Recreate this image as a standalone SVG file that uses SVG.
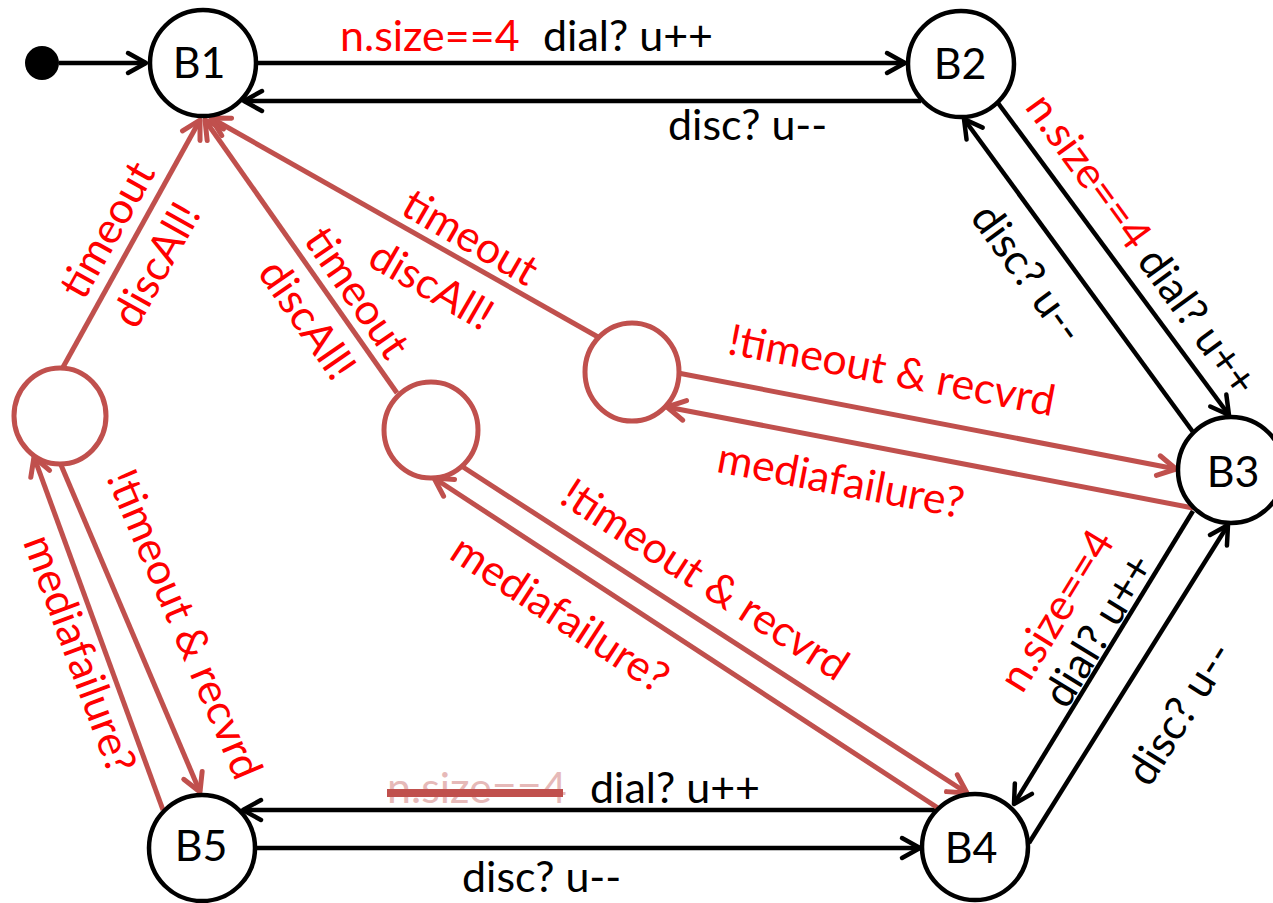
<svg xmlns="http://www.w3.org/2000/svg" width="1273" height="903" viewBox="0 0 1273 903">
<style>
.t{font-family:Lato,"Open Sans","Liberation Sans",sans-serif;font-size:43px}
.r{fill:#ff0000}
.k{fill:#000000}
.n{fill:#ffffff;stroke:#000000;stroke-width:4.5}
.s{fill:#ffffff;stroke:#c0504d;stroke-width:5}
.bl{fill:none;stroke:#000000;stroke-width:4.5;marker-end:url(#ab)}
.rl{fill:none;stroke:#c0504d;stroke-width:5;marker-end:url(#ar)}
</style>
<defs>
<marker id="ab" markerUnits="userSpaceOnUse" markerWidth="30" markerHeight="30" viewBox="-22 -15 30 30" refX="0" refY="0" orient="auto" overflow="visible">
<path d="M-18,-10 L0,0 L-18,10" fill="none" stroke="#000" stroke-width="4.5" stroke-linecap="round" stroke-linejoin="round"/>
</marker>
<marker id="ar" markerUnits="userSpaceOnUse" markerWidth="30" markerHeight="30" viewBox="-22 -15 30 30" refX="0" refY="0" orient="auto" overflow="visible">
<path d="M-18,-10 L0,0 L-18,10" fill="none" stroke="#c0504d" stroke-width="5" stroke-linecap="round" stroke-linejoin="round"/>
</marker>
</defs>
<rect width="1273" height="903" fill="#ffffff"/>

<g id="connectors">
<path class="bl" d="M59,63 L146,63"/>
<path class="bl" d="M256,63 L905,63"/>
<path class="bl" d="M921,101 L244,101"/>
<path class="bl" d="M998,103 L1229,415"/>
<path class="bl" d="M1193,432 L964,119"/>
<path class="bl" d="M1193,511 L1014,804"/>
<path class="bl" d="M1029,843 L1228,525"/>
<path class="bl" d="M937,810 L243,810"/>
<path class="bl" d="M255,848 L920,848"/>
<path class="rl" d="M62,369 L200,120"/>
<path class="rl" d="M397,393 L205,120"/>
<path class="rl" d="M598,337 L211,118"/>
<path class="rl" d="M678,373 L1176,469"/>
<path class="rl" d="M1193,508 L667,407"/>
<path class="rl" d="M463,467 L967,793"/>
<path class="rl" d="M938,808 L434,478"/>
<path class="rl" d="M61,465 L200,792"/>
<path class="rl" d="M163,810 L34,457"/>
</g>

<g id="init"><circle cx="42" cy="63" r="17" fill="#000"/></g>
<g id="B1"><circle class="n" cx="203" cy="63" r="53"/><text class="t k" x="199" y="78" text-anchor="middle">B1</text></g>
<g id="B2"><circle class="n" cx="961" cy="64" r="53"/><text class="t k" x="960" y="79" text-anchor="middle">B2</text></g>
<g id="B3"><circle class="n" cx="1231" cy="470" r="53"/><text class="t k" x="1233" y="487" text-anchor="middle">B3</text></g>
<g id="B4"><circle class="n" cx="975" cy="847" r="53"/><text class="t k" x="971" y="863" text-anchor="middle">B4</text></g>
<g id="B5"><circle class="n" cx="202" cy="848" r="53"/><text class="t k" x="201" y="861" text-anchor="middle">B5</text></g>
<g id="S1"><ellipse class="s" cx="60" cy="416" rx="46" ry="48"/></g>
<g id="S2"><ellipse class="s" cx="431" cy="430" rx="47" ry="48"/></g>
<g id="S3"><ellipse class="s" cx="632" cy="372" rx="47" ry="49"/></g>

<g id="labels">
<text class="t r" x="340" y="51">n.size==4</text>
<text class="t k" x="543" y="51">dial? u++</text>
<text class="t k" x="668" y="140">disc? u--</text>
<text class="t" text-anchor="middle" transform="translate(1130,253) rotate(54)"><tspan class="r">n.size==4</tspan><tspan class="k"> dial? u++</tspan></text>
<text class="t k" text-anchor="middle" transform="translate(1016,282) rotate(54)">disc? u--</text>
<text class="t k" text-anchor="middle" transform="translate(1111,638) rotate(-58.6)">dial? u++</text>
<text class="t r" text-anchor="middle" transform="translate(1069,618) rotate(-58.6)">n.size==4</text>
<text class="t k" text-anchor="middle" transform="translate(1192,721) rotate(-57.8)">disc? u--</text>
<text class="t" x="387" y="803" fill="#e6b9b8">n.size==4</text>
<rect x="387" y="789" width="176" height="8" fill="#c0504d"/>
<text class="t k" x="590" y="803">dial? u++</text>
<text class="t k" x="462" y="892">disc? u--</text>
<text class="t r" text-anchor="middle" transform="translate(120,237) rotate(-60.8)">timeout</text>
<text class="t r" text-anchor="middle" transform="translate(169,272) rotate(-60.8)">discAll!</text>
<text class="t r" text-anchor="middle" transform="translate(345,301) rotate(55.3)">timeout</text>
<text class="t r" text-anchor="middle" transform="translate(295,328) rotate(55.3)">discAll!</text>
<text class="t r" text-anchor="middle" transform="translate(463,250) rotate(30)">timeout</text>
<text class="t r" text-anchor="middle" transform="translate(424,298) rotate(30)">discAll!</text>
<text class="t r" text-anchor="middle" transform="translate(889,385) rotate(10.9)">!timeout &amp; recvrd</text>
<text class="t r" text-anchor="middle" transform="translate(838,495) rotate(10.7)">mediafailure?</text>
<text class="t r" text-anchor="middle" transform="translate(697,592) rotate(32.9)">!timeout &amp; recvrd</text>
<text class="t r" text-anchor="middle" transform="translate(552,626) rotate(33.2)">mediafailure?</text>
<text class="t r" text-anchor="middle" transform="translate(171,630) rotate(66.9)">!timeout &amp; recvrd</text>
<text class="t r" text-anchor="middle" transform="translate(66,659) rotate(69.8)">mediafailure?</text>
</g>
</svg>
